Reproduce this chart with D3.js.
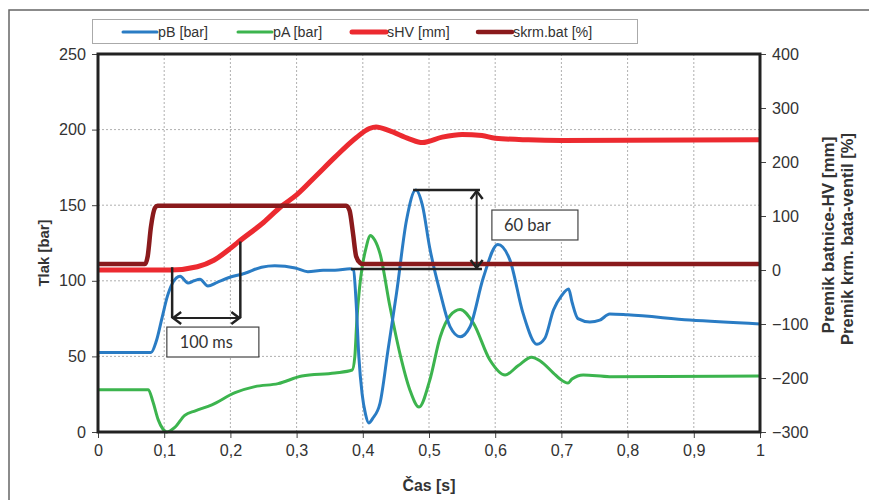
<!DOCTYPE html>
<html>
<head>
<meta charset="utf-8">
<script src="https://cdn.jsdelivr.net/npm/d3@7/dist/d3.min.js"></script>
<style>
  html, body { margin: 0; padding: 0; background: #fff; }
  svg { display: block; }
  text { font-family: "Liberation Sans", Arial, Helvetica, sans-serif; fill: #333; }
</style>
</head>
<body>
<svg id="chart" width="869" height="500"></svg>
<script>
// ---------------- DATA ----------------
const xTickValues = [0, 0.1, 0.2, 0.3, 0.4, 0.5, 0.6, 0.7, 0.8, 0.9, 1];
const xTickLabels = ["0", "0,1", "0,2", "0,3", "0,4", "0,5", "0,6", "0,7", "0,8", "0,9", "1"];
const leftTicks = [0, 50, 100, 150, 200, 250];
const rightTicks = [-300, -200, -100, 0, 100, 200, 300, 400];

const seriesNames = ["pB [bar]", "pA [bar]", "sHV [mm]", "skrm.bat [%]"];

// pB [bar] (left axis)
const pB_t = [0, 0.08, 0.088, 0.097, 0.105, 0.112, 0.124, 0.136, 0.145, 0.154, 0.166, 0.18, 0.197, 0.222, 0.247, 0.267, 0.298, 0.317, 0.34, 0.358, 0.381, 0.386, 0.39, 0.394, 0.399, 0.404, 0.409, 0.415, 0.426, 0.438, 0.451, 0.466, 0.48, 0.49, 0.501, 0.517, 0.532, 0.547, 0.562, 0.582, 0.604, 0.622, 0.642, 0.663, 0.675, 0.688, 0.7, 0.711, 0.716, 0.725, 0.743, 0.758, 0.773, 0.8, 0.894, 1.0];
const pB_v = [52.5, 52.5, 60, 76, 90, 98, 103, 98.5, 100, 101, 96.5, 99, 102, 105, 109, 110, 108.5, 106, 107, 107, 108, 107, 85, 50, 25, 12, 6, 9, 19, 54, 92, 140, 160, 150, 122, 92, 69.5, 63, 69.6, 102, 124, 114, 78.6, 58, 62, 80.7, 90, 94.5, 86, 75, 72.8, 74, 78, 77.5, 74, 71.5];

// pA [bar] (left axis)
const pA_t = [0, 0.076, 0.083, 0.091, 0.098, 0.104, 0.116, 0.131, 0.147, 0.172, 0.207, 0.237, 0.272, 0.308, 0.358, 0.384, 0.388, 0.391, 0.395, 0.399, 0.405, 0.411, 0.418, 0.426, 0.441, 0.456, 0.471, 0.485, 0.501, 0.517, 0.532, 0.547, 0.567, 0.592, 0.615, 0.635, 0.655, 0.668, 0.688, 0.698, 0.71, 0.716, 0.733, 0.773, 1.0];
const pA_v = [28, 28, 20, 8, 2, 0, 3, 11, 14, 18, 26, 30, 32, 37, 39, 41, 50, 74, 95, 109, 122, 130, 127, 118, 83, 52, 28, 16.5, 34, 63, 77, 81, 72, 47.6, 37.7, 44, 49.5, 47, 39, 35, 32.4, 35, 37.7, 36.6, 37];

// sHV [mm] (right axis)
const sHV_t = [0, 0.11, 0.15, 0.175, 0.2, 0.212, 0.25, 0.277, 0.3, 0.33, 0.358, 0.39, 0.41, 0.42, 0.44, 0.47, 0.49, 0.52, 0.55, 0.58, 0.6, 0.65, 0.7, 1.0];
const sHV_v = [0, 0, 6, 18, 40, 52, 88, 118, 139, 175, 209, 245, 262, 265, 258, 243, 236, 246, 251, 249, 244, 241, 240, 241];

// skrm.bat [%] (right axis)
const skrm_t = [0, 0.071, 0.075, 0.08, 0.086, 0.09, 0.375, 0.38, 0.385, 0.39, 0.396, 0.4, 1.0];
const skrm_v = [11, 11, 25, 80, 115, 119, 119, 110, 70, 25, 13, 11, 11];

// annotations (data units: time [s], pressure [bar])
const ann100ms = { label: "100 ms", x1: 0.112, x2: 0.215, y1top: 109, y2top: 126, arrowY: 75.4, boxX: [0.104, 0.243], boxY: [49.6, 69.4] };
const ann60bar = { label: "60 bar", topY: 160, topX: [0.476, 0.577], botY: 107.8, botX: [0.382, 0.58], arrowX: 0.572, boxX: [0.595, 0.725], boxY: [127, 146.8] };

// ---------------- CHART ----------------
const W = 869, H = 500;
const M = { left: 98, right: W - 760, top: 54, bottom: H - 432 };
const svg = d3.select("#chart");

// fit a text's font size so that its rendered width matches a target width
function fitWidth(sel, target) {
  const node = sel.node();
  const fs = parseFloat(sel.style("font-size"));
  const w = node.getComputedTextLength();
  if (w > 0) sel.style("font-size", (fs * target / w).toFixed(2) + "px");
  return parseFloat(sel.style("font-size"));
}

const x = d3.scaleLinear().domain([0, 1]).range([M.left, W - M.right]);
const yL = d3.scaleLinear().domain([0, 250]).range([H - M.bottom, M.top]);
const yR = d3.scaleLinear().domain([-300, 400]).range([H - M.bottom, M.top]);

// outer frame
svg.append("rect").attr("x", 9).attr("y", 10).attr("width", 900).attr("height", 520)
  .attr("fill", "none").attr("stroke", "#666").attr("stroke-width", 1.5);

// grid
const grid = svg.append("g");
grid.selectAll("line.v").data(xTickValues.slice(1, -1)).join("line")
  .attr("x1", d => x(d)).attr("x2", d => x(d)).attr("y1", yL(0)).attr("y2", yL(250))
  .attr("stroke", "#9a9a9a").attr("stroke-width", 0.8).attr("stroke-dasharray", "2,2");
grid.selectAll("line.h").data(leftTicks.slice(1, -1)).join("line")
  .attr("x1", x(0)).attr("x2", x(1)).attr("y1", d => yL(d)).attr("y2", d => yL(d))
  .attr("stroke", "#9a9a9a").attr("stroke-width", 0.8).attr("stroke-dasharray", "2,2");

// tick font size: fit "250" to reference width
const probe = svg.append("text").style("font-size", "15px").text("250");
const tickFS = fitWidth(probe, 27);
probe.remove();

// axes
const axL = d3.axisLeft(yL).tickValues(leftTicks).tickSize(6).tickPadding(6);
const axR = d3.axisRight(yR).tickValues(rightTicks).tickSize(6).tickPadding(6);
const axB = d3.axisBottom(x).tickValues(xTickValues).tickSize(6).tickPadding(7)
  .tickFormat((d, i) => xTickLabels[i]);

function styleAxis(g) {
  g.attr("font-family", null).attr("font-size", null);
  g.select(".domain").remove();
  g.selectAll(".tick line").attr("stroke", "#444").attr("stroke-width", 1);
  g.selectAll(".tick text").style("font-size", tickFS + "px").attr("fill", "#333");
}
svg.append("g").attr("transform", `translate(${x(0)},0)`).call(axL).call(styleAxis);
svg.append("g").attr("transform", `translate(${x(1)},0)`).call(axR).call(styleAxis);
svg.append("g").attr("transform", `translate(0,${yL(0)})`).call(axB).call(styleAxis);

// series
const lineL = d3.line().x(d => x(d[0])).y(d => yL(d[1])).curve(d3.curveMonotoneX);
const lineR = d3.line().x(d => x(d[0])).y(d => yR(d[1])).curve(d3.curveMonotoneX);
const zip = (a, b) => a.map((t, i) => [t, b[i]]);

const colors = ["#2a7cc4", "#3cb44e", "#ec2a30", "#8a1a1c"];
const widths = [3, 3, 5, 4.5];

const plot = svg.append("g");
plot.append("path").datum(zip(pA_t, pA_v)).attr("d", lineL)
  .attr("fill", "none").attr("stroke", colors[1]).attr("stroke-width", widths[1]).attr("stroke-linejoin", "round");
plot.append("path").datum(zip(pB_t, pB_v)).attr("d", lineL)
  .attr("fill", "none").attr("stroke", colors[0]).attr("stroke-width", widths[0]).attr("stroke-linejoin", "round");
plot.append("path").datum(zip(sHV_t, sHV_v)).attr("d", lineR)
  .attr("fill", "none").attr("stroke", colors[2]).attr("stroke-width", widths[2]).attr("stroke-linejoin", "round");
plot.append("path").datum(zip(skrm_t, skrm_v)).attr("d", lineR)
  .attr("fill", "none").attr("stroke", colors[3]).attr("stroke-width", widths[3]).attr("stroke-linejoin", "round");

// plot frame
svg.append("rect").attr("x", x(0)).attr("y", yL(250)).attr("width", x(1) - x(0)).attr("height", yL(0) - yL(250))
  .attr("fill", "none").attr("stroke", "#222").attr("stroke-width", 3);

// annotations
const ann = svg.append("g").attr("stroke", "#222").attr("stroke-width", 2.5).attr("fill", "none");
function arrowHead(g, px, py, dir) {
  const s = 8;
  let pts;
  if (dir === "left") pts = [[px + s, py - s * 0.75], [px, py], [px + s, py + s * 0.75]];
  if (dir === "right") pts = [[px - s, py - s * 0.75], [px, py], [px - s, py + s * 0.75]];
  if (dir === "up") pts = [[px - s * 0.75, py + s], [px, py], [px + s * 0.75, py + s]];
  if (dir === "down") pts = [[px - s * 0.75, py - s], [px, py], [px + s * 0.75, py - s]];
  g.append("polyline").attr("points", pts.map(p => p.join(",")).join(" "));
}
// 100 ms
ann.append("line").attr("x1", x(ann100ms.x1)).attr("x2", x(ann100ms.x1)).attr("y1", yL(ann100ms.y1top)).attr("y2", yL(ann100ms.arrowY));
ann.append("line").attr("x1", x(ann100ms.x2)).attr("x2", x(ann100ms.x2)).attr("y1", yL(ann100ms.y2top)).attr("y2", yL(ann100ms.arrowY));
ann.append("line").attr("x1", x(ann100ms.x1)).attr("x2", x(ann100ms.x2)).attr("y1", yL(ann100ms.arrowY)).attr("y2", yL(ann100ms.arrowY)).attr("stroke-width", 2);
arrowHead(ann, x(ann100ms.x1) + 1, yL(ann100ms.arrowY), "left");
arrowHead(ann, x(ann100ms.x2) - 1, yL(ann100ms.arrowY), "right");
svg.append("rect").attr("x", x(ann100ms.boxX[0])).attr("y", yL(ann100ms.boxY[1]))
  .attr("width", x(ann100ms.boxX[1]) - x(ann100ms.boxX[0])).attr("height", yL(ann100ms.boxY[0]) - yL(ann100ms.boxY[1]))
  .attr("fill", "#fff").attr("stroke", "#444").attr("stroke-width", 1.2);
const t100 = svg.append("text").attr("x", x(ann100ms.boxX[0]) + 13).attr("y", (yL(ann100ms.boxY[0]) + yL(ann100ms.boxY[1])) / 2 + 6)
  .text(ann100ms.label).style("font-family", "Lato, 'Open Sans', sans-serif").style("font-size", "16px").attr("fill", "#222");
fitWidth(t100, 53);

// 60 bar
ann.append("line").attr("x1", x(ann60bar.topX[0])).attr("x2", x(ann60bar.topX[1])).attr("y1", yL(ann60bar.topY)).attr("y2", yL(ann60bar.topY));
ann.append("line").attr("x1", x(ann60bar.botX[0])).attr("x2", x(ann60bar.botX[1])).attr("y1", yL(ann60bar.botY)).attr("y2", yL(ann60bar.botY));
ann.append("line").attr("x1", x(ann60bar.arrowX)).attr("x2", x(ann60bar.arrowX)).attr("y1", yL(ann60bar.topY)).attr("y2", yL(ann60bar.botY)).attr("stroke-width", 2);
arrowHead(ann, x(ann60bar.arrowX), yL(ann60bar.topY) + 1, "up");
arrowHead(ann, x(ann60bar.arrowX), yL(ann60bar.botY) - 1, "down");
svg.append("rect").attr("x", x(ann60bar.boxX[0])).attr("y", yL(ann60bar.boxY[1]))
  .attr("width", x(ann60bar.boxX[1]) - x(ann60bar.boxX[0])).attr("height", yL(ann60bar.boxY[0]) - yL(ann60bar.boxY[1]))
  .attr("fill", "#fff").attr("stroke", "#444").attr("stroke-width", 1.2);
const t60 = svg.append("text").attr("x", x(ann60bar.boxX[0]) + 12).attr("y", (yL(ann60bar.boxY[0]) + yL(ann60bar.boxY[1])) / 2 + 6)
  .text(ann60bar.label).style("font-family", "Lato, 'Open Sans', sans-serif").style("font-size", "16px").attr("fill", "#222");
fitWidth(t60, 47);

// axis titles
const tl = svg.append("text").attr("transform", `translate(49,${(yL(0) + yL(250)) / 2 + 10}) rotate(-90)`)
  .attr("text-anchor", "middle").style("font-size", "15.5px").style("font-weight", "bold").attr("fill", "#222")
  .text("Tlak [bar]");
fitWidth(tl, 67);
const tb = svg.append("text").attr("x", (x(0) + x(1)) / 2).attr("y", 491).attr("text-anchor", "middle")
  .style("font-size", "16px").style("font-weight", "bold").attr("fill", "#222").text("Čas [s]");
fitWidth(tb, 53);
const tr1 = svg.append("text").attr("transform", `translate(834,${(yL(0) + yL(250)) / 2 - 8}) rotate(-90)`)
  .attr("text-anchor", "middle").style("font-size", "15.5px").style("font-weight", "bold").attr("fill", "#222")
  .text("Premik batnice-HV [mm]");
fitWidth(tr1, 197);
const tr2 = svg.append("text").attr("transform", `translate(853,${(yL(0) + yL(250)) / 2 - 4}) rotate(-90)`)
  .attr("text-anchor", "middle").style("font-size", "15.5px").style("font-weight", "bold").attr("fill", "#222")
  .text("Premik krm. bata-ventil  [%]");
fitWidth(tr2, 212);

// legend
const lg = svg.append("g");
lg.append("rect").attr("x", 92.5).attr("y", 19.5).attr("width", 545).attr("height", 24)
  .attr("fill", "#fff").attr("stroke", "#aaa").attr("stroke-width", 1);
const legendX = [123, 238, 352, 478];
let legendFS = null;
seriesNames.forEach((name, i) => {
  lg.append("line").attr("x1", legendX[i]).attr("x2", legendX[i] + 34).attr("y1", 32).attr("y2", 32)
    .attr("stroke", colors[i]).attr("stroke-width", widths[i]).attr("stroke-linecap", "round");
  const t = lg.append("text").attr("x", legendX[i] + 35).attr("y", 37).style("font-size", "14.5px").attr("fill", "#333").text(name);
  if (i === 0) legendFS = fitWidth(t, 50);
  else t.style("font-size", legendFS + "px");
});
</script>
</body>
</html>
